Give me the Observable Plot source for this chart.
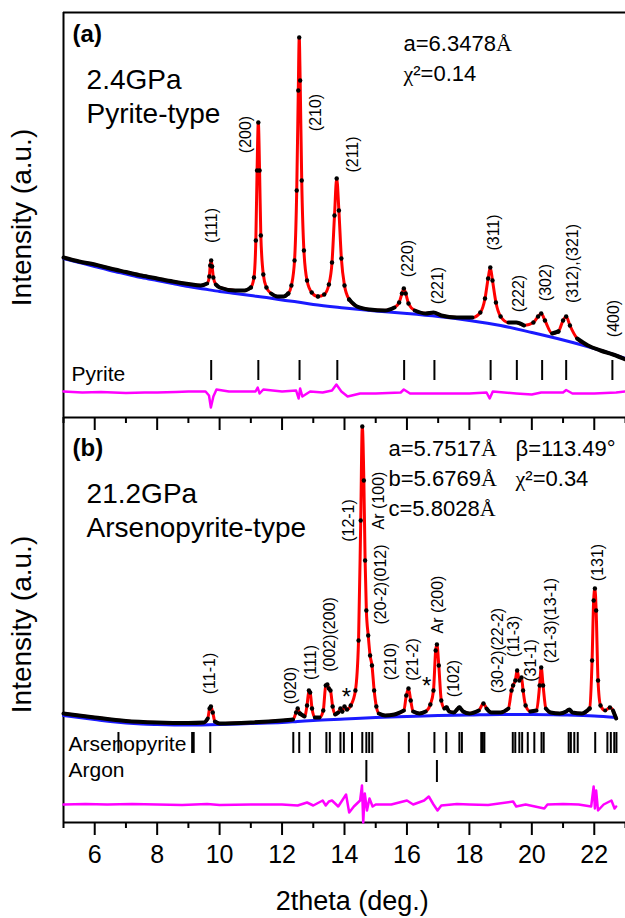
<!DOCTYPE html>
<html><head><meta charset="utf-8">
<script src="https://cdn.jsdelivr.net/npm/d3@7"></script>
<script src="https://cdn.jsdelivr.net/npm/@observablehq/plot@0.6"></script>
<style>
body{margin:0;background:#fff}
#chart svg{font-family:"Liberation Sans",Arial,sans-serif;overflow:visible}
</style>
</head><body><div id="chart"></div>
<script>
// ---------- Panel (a): 2.4 GPa, pyrite-type (2theta, intensity a.u.) ----------
const pyriteObs = [[5.0,160],[5.5,156],[6.0,153],[6.5,149],[7.0,145.5],[7.5,142],[8.0,139],[8.5,136],[9.0,133.5],[9.4,132],[9.6,134],[9.67,141],[9.7,152],[9.73,157],[9.76,151],[9.8,140],[9.88,133],[10.0,130],[10.5,127],[10.8,127],[11.0,130],[11.1,140],[11.16,177],[11.2,247],[11.24,295],[11.28,247],[11.32,182],[11.4,143],[11.5,130],[11.65,124],[11.85,121],[12.05,121],[12.2,124],[12.3,132],[12.4,157],[12.47,227],[12.52,327],[12.55,380],[12.58,337],[12.63,237],[12.7,167],[12.8,137],[12.95,125],[13.15,121],[13.35,123],[13.5,133],[13.6,155],[13.68,202],[13.75,239],[13.82,207],[13.9,159],[14.0,132],[14.15,118],[14.4,111],[14.8,108],[15.3,107],[15.6,110],[15.75,115],[15.84,124],[15.9,129],[15.96,124],[16.05,114],[16.25,107],[16.6,104],[16.85,105],[17.1,102],[17.6,100],[18.1,100],[18.35,105],[18.5,119],[18.6,139],[18.67,150],[18.74,137],[18.85,115],[19.0,101],[19.25,95],[19.5,95],[19.75,92],[20.05,95],[20.2,101],[20.3,104],[20.42,97],[20.65,84],[20.85,86],[21.0,97],[21.1,101],[21.22,92],[21.45,79],[21.8,72],[22.2,67],[22.6,63],[23.0,58]];
const pyriteBg = [[5,159],[5.5,155],[6,151],[6.5,147],[7,143.5],[7.5,140],[8,137],[8.5,134],[9,131],[9.5,128.5],[10,126],[10.5,124],[11,122],[11.5,120],[12,117.5],[12.5,115.5],[13,113],[14,109.5],[15,106.5],[16,104],[17,101],[18,97],[19,92],[20,85],[21,77.5],[22,69],[23,59]];
const pyriteDiff = [[5,26],[5.6,25],[6.2,25.5],[7,24.5],[7.6,25],[8,25],[8.6,25.5],[9,26],[9.55,26],[9.66,22],[9.72,10],[9.8,21],[9.9,28],[10.3,26],[11.0,26],[11.15,26],[11.22,30],[11.28,24],[11.4,28],[12.0,26],[12.45,27],[12.53,19],[12.58,29],[12.65,21],[12.9,26],[13.3,25],[13.6,27],[13.74,33],[13.9,26],[14.1,21],[14.5,24],[15,24],[15.8,25],[15.9,28],[16.1,24],[17,24],[18,24],[18.55,25],[18.65,19],[18.75,26],[19.5,24],[20,23],[20.3,25],[21,25],[21.1,27.5],[21.3,24],[22,24],[22.7,25],[23,26]];
const pyriteTicks = [9.73,11.24,12.56,13.77,15.91,16.88,18.68,19.52,20.33,21.1,22.58];
const pyriteLabels = ["(111)","(200)","(210)","(211)","(220)","(221)","(311)","(222)","(302)","(312),(321)","(400)"];
const pyriteLabelX = [9.74,10.83,13.07,14.26,16.02,16.98,18.77,19.57,20.44,21.30,22.62];
const pyriteLabelY = [192,283,305,263,159,132,185,124,135,154,99];

// ---------- Panel (b): 21.2 GPa, arsenopyrite-type ----------
const arsenoObs = [[5.0,109],[6.0,105],[7.0,101.5],[8.0,100],[9.0,99.5],[9.5,100],[9.62,104],[9.68,114],[9.72,116],[9.78,110],[9.85,101],[10.0,99],[11.0,100],[12.0,102],[12.35,103],[12.45,110],[12.5,114],[12.57,109],[12.72,106],[12.8,117],[12.86,132],[12.9,130],[12.96,114],[13.05,105],[13.2,105],[13.32,112],[13.4,137],[13.45,138],[13.5,134],[13.55,132],[13.62,116],[13.7,108],[13.8,110],[13.87,114],[13.93,111],[14.0,116],[14.08,113],[14.2,117],[14.35,132],[14.45,182],[14.52,302],[14.57,396],[14.62,342],[14.66,262],[14.7,212],[14.76,187],[14.82,167],[14.88,157],[14.95,132],[15.02,116],[15.1,109],[15.3,107],[15.6,108],[15.9,112],[15.98,127],[16.05,134],[16.12,122],[16.2,111],[16.4,109],[16.6,111],[16.75,118],[16.85,132],[16.92,172],[16.96,178],[17.02,157],[17.1,122],[17.2,114],[17.27,115],[17.35,111],[17.5,110],[17.68,115],[17.8,111],[18.0,109],[18.3,112],[18.45,119],[18.55,114],[18.7,110],[19.0,110],[19.25,114],[19.35,132],[19.4,137],[19.47,142],[19.53,152],[19.6,142],[19.67,145],[19.72,132],[19.8,117],[19.95,111],[20.15,112],[20.25,137],[20.3,155],[20.36,137],[20.45,114],[20.6,110],[20.9,109],[21.1,111],[21.2,113],[21.3,110],[21.6,109],[21.85,114],[21.93,162],[21.98,222],[22.02,234],[22.06,212],[22.12,142],[22.2,117],[22.35,112],[22.5,115],[22.6,112],[22.7,104]];
const arsenoBg = [[5,107],[5.5,105],[6,103],[6.5,101],[7,99.5],[7.5,98.5],[8,98],[9,97.5],[10,98],[11,99],[12,100],[12.5,101],[13,102],[14,103.5],[15,105],[16,106],[17,107],[18,107.5],[19,108],[20,108],[21,107.5],[22,106.5],[22.7,105]];
const arsenoDiff = [[5,18],[5.7,18.5],[6.4,18],[7.2,18.5],[8,18],[8.8,17.5],[9.6,18.5],[10,17.5],[11,18],[12,18],[12.5,17],[12.8,20],[13.0,17],[13.3,22],[13.4,17],[13.5,21],[13.6,22],[13.8,16],[14.05,28],[14.15,10],[14.3,16],[14.5,22],[14.56,37],[14.6,0],[14.65,29],[14.72,12],[14.8,24],[14.9,16],[15.0,18],[15.5,18],[16.0,22],[16.2,18],[16.55,22],[16.7,26],[16.85,18],[16.98,12],[17.1,17],[17.6,18.5],[18,18],[18.6,17.5],[19.4,21],[19.5,16],[19.8,18],[20.4,14],[20.5,18],[21.0,18.5],[21.5,18],[21.9,16],[21.98,36],[22.02,14],[22.06,32],[22.12,12],[22.3,18],[22.55,22],[22.65,14],[22.7,16]];
const arsenoTicks = [6.76,9.12,9.17,9.70,12.36,12.55,12.89,13.42,13.53,13.87,13.98,14.24,14.57,14.70,14.79,14.89,16.06,16.88,17.26,17.68,17.76,18.38,18.43,18.48,19.39,19.47,19.60,19.69,19.87,20.08,20.31,20.38,21.18,21.25,21.36,21.47,22.03,22.42,22.53,22.64,22.71];
const argonTicks = [14.70,16.96];
const arsenoLabels = ["(11-1)","(020)","(111)","(002)(200)","(12-1)","Ar (100)","(20-2)(012)","(210)","(21-2)","Ar (200)","(102)","(30-2)(22-2)","(11-3)","(31-1)","(21-3)(13-1)","(131)"];
const arsenoLabelX = [9.68,12.27,12.91,13.52,14.13,15.09,15.17,15.47,16.18,16.98,17.49,18.90,19.41,19.96,20.60,22.10];
const arsenoLabelY = [149,137,160,188,302,322,238,161,163,218,144,172,186,162,202,260];
const starX = [14.06,16.63];
const starY = [125,136];

// x-axis ticks
const majorTicks = [6,8,10,12,14,16,18,20,22];
const minorTicks = [5,7,9,11,13,15,17,19,21,23];

// ---------- layout helpers ----------
const OFF = 405; // panel (a) is stacked on top of panel (b)
const toA = arr => arr.map(([x,y]) => ({x, y: y + OFF}));
const toB = arr => arr.map(([x,y]) => ({x, y}));
const interp = (bg) => { const xs = bg.map(d=>d[0]), ys = bg.map(d=>d[1]); return x => { let i = d3.bisectRight(xs, x); i = Math.max(1, Math.min(xs.length-1, i)); const t=(x-xs[i-1])/(xs[i]-xs[i-1]); return ys[i-1]+t*(ys[i]-ys[i-1]); }; };

function prep(obs, bg, off){
  const f = interp(bg);
  const pts = obs.map(([x,y]) => ({x, y: y+off, ex: y - f(x)}));
  return {
    pts,
    peaks: pts.filter(d => d.ex > 7),
    flat: pts.map(d => ({x:d.x, y: d.ex < 9 ? d.y : NaN}))
  };
}
const pa = prep(pyriteObs, pyriteBg, OFF);
const pb = prep(arsenoObs, arsenoBg, 0);

const labelsA = pyriteLabels.map((t,i)=>({t, x:pyriteLabelX[i], y:pyriteLabelY[i]+OFF}));
const labelsB = arsenoLabels.map((t,i)=>({t, x:arsenoLabelX[i], y:arsenoLabelY[i]}));
const stars = starX.map((x,i)=>({x, y:starY[i]}));

const RED="#ff0000", BLUE="#1a1aff", PINK="#ff00ff";
const curve="monotone-x";

const chart = Plot.plot({
  width:625, height:918,
  marginTop:12, marginBottom:96, marginLeft:63, marginRight:0,
  x:{domain:[5,23]},
  y:{domain:[0,810], axis:null},
  style:{fontFamily:"'Liberation Sans',Arial,sans-serif", fontSize:"16px", color:"black", background:"white", overflow:"visible"},
  marks:[
    // frame
    Plot.ruleX([5], {strokeWidth:2}),
    Plot.ruleY([0, OFF, 2*OFF], {strokeWidth:2}),
    // ticks at the bottom of (a) pointing into (b)
    Plot.ruleX(majorTicks, {y1:OFF, y2:OFF-13, strokeWidth:2}),
    Plot.ruleX(minorTicks, {y1:OFF, y2:OFF-6, strokeWidth:2}),
    // bottom axis
    Plot.axisX({ticks:majorTicks, tickSize:13, tickPadding:10, fontSize:25, strokeWidth:2, label:null, tickFormat:d=>d}),
    Plot.ruleX(minorTicks, {y1:0, y2:-6, strokeWidth:2}),
    Plot.text(["2theta (deg.)"], {x:14.25, frameAnchor:"bottom", dy:79, textAnchor:"middle", lineAnchor:"middle", fontSize:27}),
    Plot.text(["Intensity (a.u.)"], {frameAnchor:"left", y:605, dx:-41, rotate:-90, textAnchor:"middle", lineAnchor:"middle", fontSize:28}),
    Plot.text(["Intensity (a.u.)"], {frameAnchor:"left", y:198, dx:-41, rotate:-90, textAnchor:"middle", lineAnchor:"middle", fontSize:28}),

    // panel (a)
    Plot.line(toA(pyriteBg), {x:"x", y:"y", stroke:BLUE, strokeWidth:3, curve}),
    Plot.line(pa.pts, {x:"x", y:"y", stroke:RED, strokeWidth:3, curve}),
    Plot.line(pa.flat, {x:"x", y:"y", stroke:"black", strokeWidth:4, curve}),
    Plot.dot(pa.peaks, {x:"x", y:"y", r:2.2, fill:"black"}),
    Plot.line(toA(pyriteDiff), {x:"x", y:"y", stroke:PINK, strokeWidth:2.5}),
    Plot.ruleX(pyriteTicks, {y1:OFF+37, y2:OFF+57, strokeWidth:2}),
    Plot.text(labelsA, {x:"x", y:"y", text:"t", rotate:-90, fontSize:16}),
    Plot.text(["Pyrite"], {x:5.26, y:OFF+43, textAnchor:"start", fontSize:21}),
    Plot.text(["(a)"], {x:5.29, y:OFF+383, textAnchor:"start", fontSize:24, fontWeight:"bold"}),
    Plot.text(["2.4GPa"], {x:5.74, y:OFF+337, textAnchor:"start", fontSize:28}),
    Plot.text(["Pyrite-type"], {x:5.74, y:OFF+303, textAnchor:"start", fontSize:28}),
    Plot.text(["a=6.3478Å"], {x:15.89, y:OFF+374, textAnchor:"start", fontSize:22}),
    Plot.text(["χ²=0.14"], {x:15.89, y:OFF+344, textAnchor:"start", fontSize:22}),

    // panel (b)
    Plot.line(toB(arsenoBg), {x:"x", y:"y", stroke:BLUE, strokeWidth:3, curve}),
    Plot.line(pb.pts, {x:"x", y:"y", stroke:RED, strokeWidth:3, curve}),
    Plot.line(pb.flat, {x:"x", y:"y", stroke:"black", strokeWidth:4, curve}),
    Plot.dot(pb.peaks, {x:"x", y:"y", r:2.2, fill:"black"}),
    Plot.line(toB(arsenoDiff), {x:"x", y:"y", stroke:PINK, strokeWidth:2.5}),
    Plot.ruleX(arsenoTicks, {y1:69, y2:90, strokeWidth:2}),
    Plot.ruleX(argonTicks, {y1:40, y2:62, strokeWidth:2}),
    Plot.text(labelsB, {x:"x", y:"y", text:"t", rotate:-90, fontSize:16}),
    Plot.text(stars, {x:"x", y:"y", text:()=>"*", fontSize:24}),
    Plot.text(["Arsenopyrite"], {x:5.16, y:78, textAnchor:"start", fontSize:21}),
    Plot.text(["Argon"], {x:5.16, y:52, textAnchor:"start", fontSize:21}),
    Plot.text(["(b)"], {x:5.29, y:374, textAnchor:"start", fontSize:24, fontWeight:"bold"}),
    Plot.text(["21.2GPa"], {x:5.74, y:328, textAnchor:"start", fontSize:28}),
    Plot.text(["Arsenopyrite-type"], {x:5.74, y:294, textAnchor:"start", fontSize:28}),
    Plot.text(["a=5.7517Å"], {x:15.41, y:374, textAnchor:"start", fontSize:22}),
    Plot.text(["b=5.6769Å"], {x:15.41, y:344, textAnchor:"start", fontSize:22}),
    Plot.text(["c=5.8028Å"], {x:15.41, y:314, textAnchor:"start", fontSize:22}),
    Plot.text(["β=113.49°"], {x:19.48, y:374, textAnchor:"start", fontSize:22}),
    Plot.text(["χ²=0.34"], {x:19.48, y:344, textAnchor:"start", fontSize:22})
  ]
});
document.getElementById("chart").append(chart);

// Greek chi and the Angstrom sign are set in a serif face, as in the original figure
d3.select(chart).selectAll("text").each(function(){
  const t = this.textContent;
  if (this.children.length === 0 && /[Åχ]/.test(t)) {
    const sel = d3.select(this);
    sel.text(null);
    for (const part of t.split(/([Åχ])/)) {
      if (!part) continue;
      const ts = sel.append("tspan").text(part);
      if (part === "Å" || part === "χ") ts.attr("font-family", "'Liberation Serif','Times New Roman',serif");
    }
  }
});
</script>
</body></html>
